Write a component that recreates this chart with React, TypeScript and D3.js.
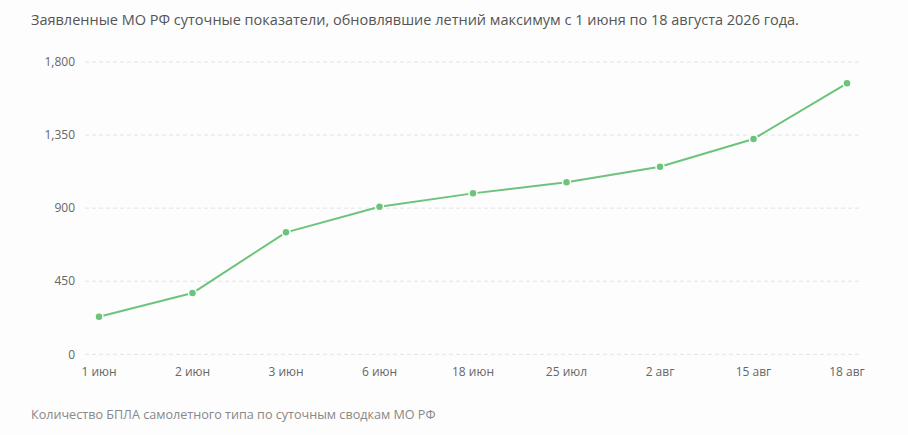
import { useEffect, useRef } from "react";
import * as d3 from "d3";

const dates = ["1 июн", "2 июн", "3 июн", "6 июн", "18 июн", "25 июл", "2 авг", "15 авг", "18 авг"];
const values = [231, 377, 751, 909, 991, 1059, 1155, 1326, 1669];
const yTicks = [0, 450, 900, 1350, 1800];

const title = "Заявленные МО РФ суточные показатели, обновлявшие летний максимум с 1 июня по 18 августа 2026 года.";
const footer = "Количество БПЛА самолетного типа по суточным сводкам МО РФ";

const App = () => {
  const svgRef = useRef(null);

  useEffect(() => {
    const svg = d3.select(svgRef.current);
    const width = 908;
    const height = 435;
    const font = "'Open Sans', 'Noto Sans', sans-serif";

    svg.selectAll("*").remove();

    svg.append("rect").attr("width", width).attr("height", height).attr("fill", "#fdfdfd");

    const x = d3.scalePoint().domain(dates).range([99, 847]);
    const y = d3.scaleLinear().domain([0, 1800]).range([354.3, 62]);

    // заголовок
    svg
      .append("text")
      .attr("x", 31)
      .attr("y", 25)
      .attr("fill", "#555")
      .attr("font-family", font)
      .attr("font-size", 14.5)
      .text(title);

    // сетка
    svg
      .append("g")
      .selectAll("line")
      .data(yTicks)
      .enter()
      .append("line")
      .attr("x1", 85)
      .attr("x2", 862)
      .attr("y1", (d) => y(d))
      .attr("y2", (d) => y(d))
      .attr("stroke", "#e3e3e3")
      .attr("stroke-dasharray", "4,3");

    // ось Y
    svg
      .append("g")
      .selectAll("text")
      .data(yTicks)
      .enter()
      .append("text")
      .attr("x", 75)
      .attr("y", (d) => y(d))
      .attr("dy", "0.35em")
      .attr("text-anchor", "end")
      .attr("fill", "#666")
      .attr("font-family", font)
      .attr("font-size", 12)
      .text((d) => d3.format(",")(d));

    // ось X
    svg
      .append("g")
      .selectAll("text")
      .data(dates)
      .enter()
      .append("text")
      .attr("x", (d) => x(d))
      .attr("y", 376)
      .attr("text-anchor", "middle")
      .attr("fill", "#666")
      .attr("font-family", font)
      .attr("font-size", 12)
      .text((d) => d);

    // линия
    const line = d3
      .line<number>()
      .x((_, i) => x(dates[i]))
      .y((d) => y(d));

    svg
      .append("path")
      .datum(values)
      .attr("fill", "none")
      .attr("stroke", "#6cc47c")
      .attr("stroke-width", 2)
      .attr("stroke-linejoin", "round")
      .attr("d", line);

    svg
      .append("g")
      .selectAll("circle")
      .data(values)
      .enter()
      .append("circle")
      .attr("cx", (_, i) => x(dates[i]))
      .attr("cy", (d) => y(d))
      .attr("r", 4)
      .attr("fill", "#6cc47c")
      .attr("stroke", "#fdfdfd")
      .attr("stroke-width", 1.5);

    // подпись
    svg
      .append("text")
      .attr("x", 31)
      .attr("y", 419)
      .attr("fill", "#888")
      .attr("font-family", font)
      .attr("font-size", 12.6)
      .text(footer);
  }, []);

  return (
    <svg
      ref={svgRef}
      width={908}
      height={435}
      style={{ position: "fixed", left: 0, top: 0, display: "block" }}
    ></svg>
  );
};

export default App;
